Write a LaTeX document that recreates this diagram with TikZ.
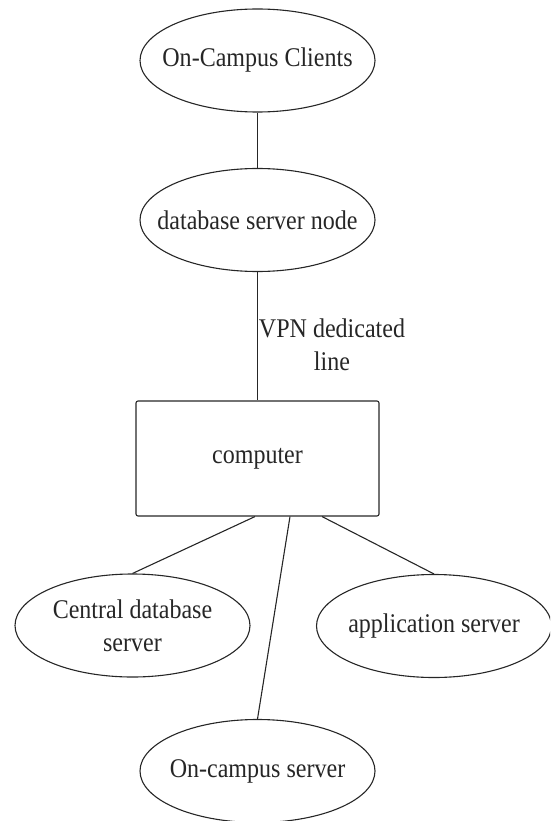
\documentclass[tikz,border=0pt]{standalone}
\usepackage{fontspec}
\setmainfont{Liberation Serif}[FakeStretch=0.89]
\usetikzlibrary{shapes.geometric}
\begin{document}
\begin{tikzpicture}[x=1pt,y=-1pt,
  every node/.style={font=\fontsize{27}{33}\selectfont, text=black!85},
  ell/.style={draw=black!85, line width=1.1pt, ellipse, inner sep=0pt,
    minimum width=235pt, minimum height=103pt},
  ellc/.style={label={[align=center]center:#1}},
  box/.style={draw=black!85, line width=1.1pt, rectangle, rounded corners=2pt,
    minimum width=243pt, minimum height=115pt, inner sep=0pt},
  link/.style={draw=black!85, line width=1.1pt}]
\useasboundingbox (0,0) rectangle (550,821);
\clip (0,0) rectangle (550,821);

% upper chain
\node[ell, ellc={On-Campus Clients}] (clients) at (257.5,60.5) {};
\node[ell, ellc={database server node}] (dbn) at (257.5,220) {};
\node[box] (comp) at (257.5,458.5) {computer};
\node[align=center] (vpn) at (332,344.5) {VPN dedicated\\line};

% servers below the computer
\node[ell, ellc={Central database\\server}] (cds) at (132.5,625.5) {};
\node[ell, ellc={application server}] (app) at (434,626) {};
\node[ell, ellc={On-campus server}] (ocs) at (257.5,771) {};

% connectors
\draw[link] (clients) -- (dbn);
\draw[link] (dbn) -- (comp);
\draw[link] ([xshift=-2.5pt]comp.south) -- (cds.north);
\draw[link] ([xshift=32.5pt]comp.south) -- (ocs.north);
\draw[link] ([xshift=64.5pt]comp.south) -- (app.north);
\end{tikzpicture}
\end{document}
